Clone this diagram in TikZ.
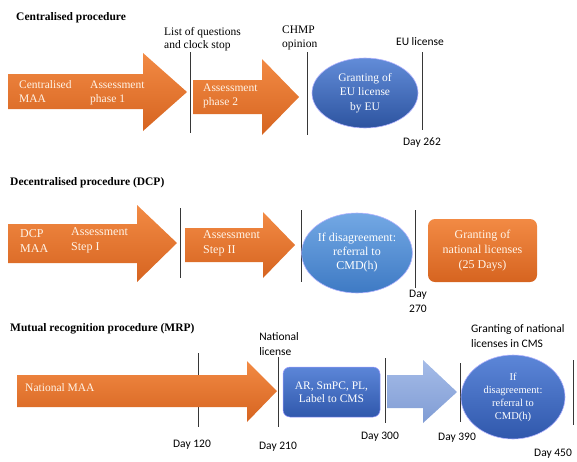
\documentclass[tikz,border=0pt]{standalone}
\usepackage{fontspec}
\setmainfont{Liberation Serif}
\setsansfont{Carlito}
\usetikzlibrary{shapes.geometric}

\definecolor{orTop}{RGB}{242,138,68}
\definecolor{orBot}{RGB}{214,100,32}
\definecolor{euTop}{RGB}{98,140,216}
\definecolor{euBot}{RGB}{45,84,160}
\definecolor{ltTop}{RGB}{115,168,228}
\definecolor{ltBot}{RGB}{62,122,196}
\definecolor{mrTop}{RGB}{92,134,216}
\definecolor{mrBot}{RGB}{48,88,172}
\definecolor{paleTop}{RGB}{165,188,232}
\definecolor{paleBot}{RGB}{128,156,212}
\definecolor{tickgray}{RGB}{55,55,55}
\definecolor{cream}{RGB}{255,244,232}

\begin{document}
\begin{tikzpicture}[x=1pt,y=-1pt,
  title/.style={font=\bfseries\fontsize{11.5}{13}\selectfont, anchor=west, inner sep=0},
  lab/.style={font=\fontsize{11.5}{13.5}\selectfont, inner sep=0, align=left, anchor=west},
  sanslab/.style={font=\sffamily\fontsize{11.5}{14.5}\selectfont, inner sep=0, align=left},
  intext/.style={font=\fontsize{11.5}{14}\selectfont, text=cream, inner sep=0, align=left, anchor=west},
  intextB/.style={font=\fontsize{12}{15}\selectfont, text=cream, inner sep=0, align=left, anchor=west},
  orangefill/.style={top color=orTop, bottom color=orBot, draw=none},
  palefill/.style={top color=paleTop, bottom color=paleBot, draw=none},
  tick/.style={draw=tickgray, line width=1pt},
  bubble/.style={ellipse, inner sep=0, align=center, text=white, draw=white!70!blue, line width=0.6pt},
]
\useasboundingbox (0,0) rectangle (577,461);

% ---------------- Centralised procedure ----------------
\node[title] (ctitle) at (16,18) {Centralised procedure};
\node[lab] (clist) at (164,39) {List of questions\\and clock stop};
\node[lab] (cchmp) at (282,38) {CHMP\\opinion};
\node[sanslab] (ceu) at (420,42) {EU license};
\node[sanslab] (cday) at (422,143) {Day 262};

\draw[tick] (190,52) -- (190,133);
\draw[tick] (307,52) -- (307,135);
\draw[tick] (422,52) -- (422,130);

\path[orangefill] (8,74) -- (143,74) -- (143,53) -- (187,92) -- (143,131) -- (143,109) -- (8,109) -- cycle;
\path[orangefill] (193,80) -- (262,80) -- (262,59) -- (299,97) -- (262,135) -- (262,114) -- (193,114) -- cycle;

\node[intext] (cmaa) at (19,92) {Centralised\\MAA};
\node[intext] (cph1) at (90,93) {Assessment\\phase 1};
\node[intext] (cph2) at (203,96) {Assessment\\phase 2};

\node[bubble, top color=euTop, bottom color=euBot, minimum width=106, minimum height=70,
      font=\fontsize{11.5}{14.5}\selectfont] (cgrant) at (365,93) {Granting of\\EU license\\by EU};

% ---------------- Decentralised procedure ----------------
\node[title] (dtitle) at (10,183) {Decentralised procedure (DCP)};

\draw[tick] (180,208) -- (180,278);
\draw[tick] (301,210) -- (301,282);
\draw[tick] (415,210) -- (415,288);

\path[orangefill] (8,224) -- (137,224) -- (137,205) -- (177,243) -- (137,282) -- (137,263) -- (8,263) -- cycle;
\path[orangefill] (185,228) -- (263,228) -- (263,212) -- (295,245) -- (263,278) -- (263,262) -- (185,262) -- cycle;

\node[intextB] (dmaa) at (20,241) {DCP\\MAA};
\node[intextB] (dst1) at (71,240) {Assessment\\Step I};
\node[intextB] (dst2) at (203,243) {Assessment\\Step II};

\node[bubble, top color=ltTop, bottom color=ltBot, minimum width=106, minimum height=80,
      font=\fontsize{12}{14}\selectfont] (dref) at (357,253) {If disagreement:\\referral to\\CMD(h)};

\node[rounded corners=7pt, orangefill, minimum width=109, minimum height=63, inner sep=0,
      align=center, text=cream, font=\fontsize{12}{15}\selectfont] (dnat) at (482.5,250.5)
      {Granting of\\national licenses\\(25 Days)};

\node[sanslab, align=left, font=\sffamily\fontsize{11.5}{15}\selectfont] (dday) at (418,301) {Day\\270};

% ---------------- Mutual recognition procedure ----------------
\node[title] (mtitle) at (10,329) {Mutual recognition procedure (MRP)};

\draw[tick] (198,353) -- (198,427);
\path[orangefill] (17,375) -- (247,375) -- (247,361) -- (277,391) -- (247,422) -- (247,407) -- (17,407) -- cycle;
\node[intext] (mmaa) at (25,388) {National MAA};

\draw[tick] (278,357) -- (278,427);
\draw[tick] (385,358) -- (385,423);
\draw[tick] (460,363) -- (460,422);
\draw[tick] (573,360) -- (573,425);

\node[sanslab] (mnat) at (279,344) {National\\license};
\node[sanslab] (m120) at (192,445) {Day 120};
\node[sanslab] (m210) at (278,447) {Day 210};
\node[sanslab] (m300) at (380,437) {Day 300};
\node[sanslab] (m390) at (457,438) {Day 390};
\node[sanslab] (m450) at (553,454) {Day 450};
\node[sanslab, anchor=west] (mcms) at (471,336) {Granting of national\\licenses in CMS};

\node[rounded corners=7pt, top color=mrTop, bottom color=mrBot, draw=white!60!blue, line width=0.5pt,
      minimum width=97, minimum height=50, inner sep=0, align=center, text=white,
      font=\fontsize{11.5}{13}\selectfont] (mar) at (331.5,392) {AR, SmPC, PL,\\Label to CMS};

\path[palefill] (387,375) -- (423,375) -- (423,360) -- (457,392) -- (423,423) -- (423,408) -- (387,408) -- cycle;

\node[bubble, top color=mrTop, bottom color=mrBot, minimum width=104, minimum height=84,
      font=\fontsize{10.5}{13}\selectfont] (mref) at (513,397) {If\\disagreement:\\referral to\\CMD(h)};
\end{tikzpicture}
\end{document}
